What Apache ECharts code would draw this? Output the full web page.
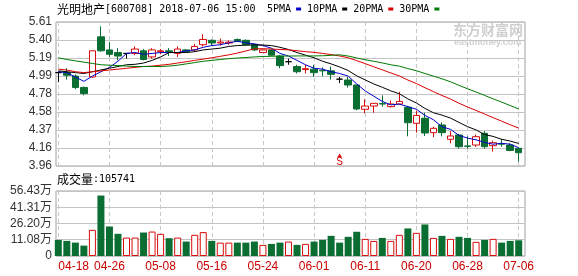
<!DOCTYPE html>
<html><head><meta charset="utf-8">
<script src="https://cdn.jsdelivr.net/npm/echarts@6/dist/echarts.min.js"></script>
<style>html,body{margin:0;padding:0;background:#fff}#c{width:578px;height:276px}</style>
</head><body><div id="c"></div>
<script>
const dates = ['04-18','04-19','04-20','04-23','04-24','04-25','04-26','04-27','05-02','05-03','05-04','05-07','05-08','05-09','05-10','05-11','05-14','05-15','05-16','05-17','05-18','05-21','05-22','05-23','05-24','05-25','05-28','05-29','05-30','05-31','06-01','06-04','06-05','06-06','06-07','06-08','06-11','06-12','06-13','06-14','06-15','06-19','06-20','06-21','06-22','06-25','06-26','06-27','06-28','06-29','07-02','07-03','07-04','07-05','07-06'];
const opens = [5.03,5.03,4.99,4.86,4.98,5.44,5.29,5.26,5.25,5.25, 5.28,5.21,5.27,5.28,5.25,5.29,5.29,5.35,5.40,5.37, 5.37,5.41,5.40,5.35,5.26,5.29,5.22,5.155,5.10,5.065, 5.07,5.055,5.05,4.955,4.945,4.888,4.61,4.647,4.675,4.64, 4.67,4.633,4.449,4.507,4.342,4.43,4.266,4.315,4.19,4.20, 4.335,4.193,4.215,4.20,4.163];
const closes = [5.03,5.00,4.86,4.79,5.28,5.28,5.24,5.22,5.25,5.30, 5.18,5.29,5.28,5.27,5.30,5.27,5.33,5.41,5.37,5.38, 5.38,5.39,5.35,5.29,5.29,5.23,5.11,5.155,5.04,5.075, 5.03,5.05,5.01,4.955,4.888,4.613,4.647,4.678,4.67,4.67, 4.70,4.456,4.539,4.338,4.392,4.342,4.304,4.181,4.185,4.296, 4.181,4.227,4.21,4.138,4.112];
const lows = [4.92,4.95,4.84,4.77,4.97,5.27,5.21,5.17,5.19,5.23, 5.17,5.19,5.24,5.22,5.21,5.26,5.27,5.33,5.34,5.34, 5.35,5.38,5.34,5.28,5.26,5.22,5.08,5.12,5.02,5.02, 4.98,4.99,4.95,4.91,4.86,4.60,4.564,4.57,4.64,4.63, 4.66,4.30,4.342,4.304,4.29,4.30,4.22,4.16,4.16,4.18, 4.16,4.125,4.18,4.13,4.01];
const highs = [5.04,5.08,5.01,4.87,5.28,5.56,5.38,5.31,5.25,5.33, 5.30,5.31,5.30,5.31,5.33,5.30,5.36,5.47,5.41,5.42, 5.40,5.42,5.41,5.36,5.30,5.30,5.23,5.19,5.12,5.12, 5.12,5.09,5.10,4.98,4.98,4.89,4.724,4.68,4.77,4.71, 4.81,4.65,4.594,4.57,4.41,4.46,4.36,4.33,4.30,4.32, 4.36,4.25,4.27,4.22,4.17];
const volumes = [109600,100200,84300,56200,203000,522000,234000,166000,131000,131000, 178000,187000,166000,125000,131000,94000,156500,182000,100000,84000, 84000,84000,84000,94000,63000,72000,84000,94000,63000,72000, 94000,109600,147000,84000,138000,185000,119000,100000,128000,100000, 156500,216000,175000,253000,128000,147000,119000,138000,128000,91000, 109600,119000,84000,100000,105741];
const ma5 = [5.04,5.03,4.98,4.93,4.99,5.04,5.09,5.16,5.25,5.26, 5.24,5.25,5.26,5.26,5.26,5.28,5.29,5.32,5.34,5.35, 5.37,5.39,5.37,5.36,5.34,5.31,5.25,5.22,5.17,5.12, 5.08,5.07,5.04,5.02,4.99,4.90,4.82,4.76,4.70,4.66, 4.67,4.64,4.61,4.54,4.49,4.41,4.38,4.31,4.28,4.26, 4.23,4.21,4.22,4.21,4.17];
const ma10 = [5.05,5.04,5.03,5.02,5.04,5.06,5.08,5.10,5.12,5.125, 5.14,5.17,5.21,5.26,5.26,5.26,5.27,5.29,5.30,5.31, 5.33,5.34,5.345,5.347,5.346,5.34,5.32,5.295,5.26,5.23, 5.20,5.16,5.13,5.095,5.054,4.993,4.946,4.90,4.862,4.821, 4.788,4.729,4.682,4.62,4.57,4.543,4.509,4.459,4.411,4.373, 4.321,4.299,4.266,4.246,4.218];
const ma20 = [5.07,5.06,5.04,5.03,5.04,5.05,5.06,5.07,5.08,5.09, 5.10,5.105,5.115,5.125,5.14,5.155,5.17,5.185,5.20,5.217, 5.234,5.254,5.278,5.303,5.304,5.301,5.295,5.291,5.281,5.27, 5.262,5.25,5.237,5.221,5.20,5.167,5.133,5.097,5.062,5.026, 4.992,4.945,4.905,4.857,4.812,4.768,4.728,4.679,4.636,4.597, 4.555,4.514,4.474,4.433,4.394];
const ma30 = [5.20,5.18,5.165,5.15,5.135,5.12,5.115,5.11,5.105,5.10, 5.10,5.10,5.10,5.105,5.115,5.13,5.145,5.16,5.17,5.18, 5.19,5.197,5.203,5.21,5.215,5.217,5.219,5.22,5.221,5.221, 5.221,5.223,5.228,5.234,5.22,5.198,5.178,5.16,5.141,5.12, 5.104,5.076,5.052,5.02,4.99,4.959,4.925,4.884,4.845,4.808, 4.769,4.73,4.692,4.653,4.614];
const priceTicks = [3.96,4.16625,4.3725,4.57875,4.785,4.99125,5.1975,5.40375,5.61];
const priceTickLabels = ['3.96','4.16','4.37','4.58','4.78','4.99','5.19','5.40','5.61'];
const volTicks = [-40400,110800,262000,413100,564300];
const volTickLabels = ['0','11.08万','26.20万','41.31万','56.43万'];
const signalDates = ['06-06'];

const UP = '#d80c0c', DOWN = '#0a6e32';
const fSans = '"Liberation Sans", Arial, "Noto Sans CJK SC", sans-serif';
const fMono = '"DejaVu Sans Mono", "Liberation Mono", monospace';
const fCJK = '"Noto Sans CJK SC", sans-serif';

function nearestLabel(ticks, labels, v) {
  let best = 0;
  for (let i = 1; i < ticks.length; i++) if (Math.abs(ticks[i] - v) < Math.abs(ticks[best] - v)) best = i;
  return labels[best];
}

const candleData = dates.map((d, i) => {
  const item = { value: [opens[i], closes[i], lows[i], highs[i]] };
  if (opens[i] === closes[i]) item.itemStyle = { color: '#000', color0: '#000', borderColor: '#000', borderColor0: '#000' };
  return item;
});
const volData = volumes.map((v, i) => {
  const rise = closes[i] > opens[i] || (closes[i] === opens[i] && i > 0 && closes[i] >= closes[i - 1]);
  return { value: v, itemStyle: rise ? { color: '#fff', borderColor: UP, borderWidth: 1 } : { color: DOWN } };
});

const splitV = { show: true, interval: 5, lineStyle: { color: '#c8c8c8', type: [4, 3], width: 1 } };
const maLine = (name, data, color) => ({
  name, type: 'line', xAxisIndex: 1, yAxisIndex: 1, data, showSymbol: false, symbol: 'none',
  color, lineStyle: { width: 1, color }, silent: true
});
const richTitle = {
  c: { fontFamily: fCJK, fontSize: 12, color: '#000', fontWeight: 'normal' },
  m: { fontFamily: fMono, fontSize: 10, color: '#000', fontWeight: 'normal' }
};

const chart = echarts.init(document.getElementById('c'), null, { renderer: 'canvas' });
chart.setOption({
  animation: false,
  backgroundColor: '#fff',
  title: [
    { left: 57, top: 3, padding: 0, text: '{c|光明地产}{m|[600708] 2018-07-06 15:00}',
      textStyle: { fontWeight: 'normal', rich: richTitle } },
    { left: 57, top: 173, padding: 0, text: '{c|成交量}{m|:105741}',
      textStyle: { fontWeight: 'normal', rich: richTitle } }
  ],
  legend: {
    left: 267, top: 4, align: 'right', icon: 'rect', itemWidth: 5, itemHeight: 3, itemGap: 6,
    selectedMode: false, padding: 0,
    textStyle: { fontFamily: fMono, fontSize: 10, color: '#000' },
    data: ['5PMA', '10PMA', '20PMA', '30PMA']
  },
  graphic: [
    { type: 'text', left: 453, top: 23, silent: true, style: { text: '东方财富网', font: 'bold 14px "Noto Sans CJK SC"', fill: '#d0d0d0' } },
    { type: 'text', left: 454, top: 38, silent: true, style: { text: 'eastmoney.com', font: 'bold 9px "Liberation Sans"', fill: '#d0d0d0' } }
  ],
  grid: [
    { left: 56, right: 53, top: 22, height: 144, show: true, borderColor: '#a0a0a0', borderWidth: 1, backgroundColor: 'transparent' },
    { left: 58.3, right: 59.3, top: 22, height: 144 },
    { left: 56, right: 53, top: 191, height: 65, show: true, borderColor: '#a0a0a0', borderWidth: 1, backgroundColor: 'transparent' },
    { left: 58.3, right: 59.3, top: 191, height: 65 }
  ],
  xAxis: [
    { gridIndex: 0, type: 'value', min: 0, max: 1, show: false },
    { gridIndex: 1, type: 'category', data: dates, boundaryGap: false,
      axisLine: { show: false }, axisTick: { show: false }, axisLabel: { show: false }, splitLine: splitV },
    { gridIndex: 2, type: 'value', min: 0, max: 1, show: false },
    { gridIndex: 3, type: 'category', data: dates, boundaryGap: false,
      axisLine: { show: false }, axisTick: { show: false },
      axisLabel: { interval: 5, color: '#cc0000', fontFamily: fSans, fontSize: 12, margin: 5, alignMinLabel: 'left', showMinLabel: true, showMaxLabel: true },
      splitLine: splitV }
  ],
  yAxis: [
    { gridIndex: 0, type: 'value', min: 3.96, max: 5.61, axisLine: { show: false },
      axisTick: { show: false, customValues: priceTicks },
      axisLabel: { customValues: priceTicks, formatter: v => nearestLabel(priceTicks, priceTickLabels, v),
        color: '#333', fontFamily: fSans, fontSize: 12, margin: 4 },
      splitLine: { show: true, lineStyle: { color: '#c4c4c4', width: 1 } } },
    { gridIndex: 1, type: 'value', min: 3.96, max: 5.61, show: false, splitLine: { show: false } },
    { gridIndex: 2, type: 'value', min: -40400, max: 564300, axisLine: { show: false },
      axisTick: { show: false, customValues: volTicks },
      axisLabel: { customValues: volTicks, formatter: v => nearestLabel(volTicks, volTickLabels, v),
        color: '#333', fontFamily: fSans, fontSize: 12, margin: 4 },
      splitLine: { show: true, lineStyle: { color: '#c4c4c4', width: 1 } } },
    { gridIndex: 3, type: 'value', min: -40400, max: 564300, startValue: -40400, show: false, splitLine: { show: false } }
  ],
  series: [
    { type: 'candlestick', xAxisIndex: 1, yAxisIndex: 1, data: candleData, barWidth: 7, silent: true,
      itemStyle: { color: '#ffffff', color0: DOWN, borderColor: UP, borderColor0: DOWN, borderWidth: 1 },
      markPoint: { symbol: 'triangle', symbolSize: [5, 4], silent: true, itemStyle: { color: UP },
        label: { show: true, position: 'bottom', distance: 0, formatter: 'S', color: UP, fontSize: 10, fontFamily: fSans },
        data: signalDates.map(d => ({ coord: [d, 4.08] })) } },
    maLine('5PMA', ma5, '#0000cc'),
    maLine('10PMA', ma10, '#000000'),
    maLine('20PMA', ma20, '#dd0000'),
    maLine('30PMA', ma30, '#007a00'),
    { type: 'bar', xAxisIndex: 3, yAxisIndex: 3, data: volData, barWidth: 7, silent: true }
  ]
});
</script></body></html>
